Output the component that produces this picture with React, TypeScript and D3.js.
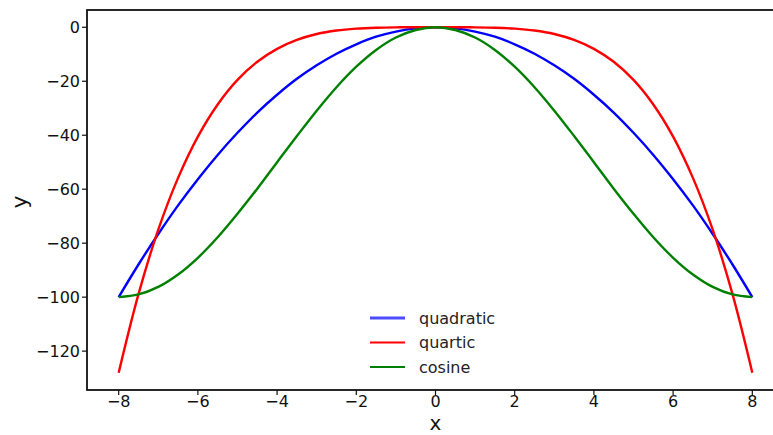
import React from 'react';
import * as d3 from 'd3';

const xs = [-8, -7.5, -7, -6.5, -6, -5.5, -5, -4.5, -4, -3.5, -3, -2.5, -2, -1.5, -1, -0.5, 0,
  0.5, 1, 1.5, 2, 2.5, 3, 3.5, 4, 4.5, 5, 5.5, 6, 6.5, 7, 7.5, 8];

const quadratic = [-100, -87.9, -76.6, -66.0, -56.3, -47.3, -39.1, -31.6, -25.0, -19.1, -14.1, -9.8, -6.3, -3.5, -1.6, -0.4, 0,
  -0.4, -1.6, -3.5, -6.3, -9.8, -14.1, -19.1, -25.0, -31.6, -39.1, -47.3, -56.3, -66.0, -76.6, -87.9, -100];

const quartic = [-128, -98.9, -75.0, -55.8, -40.5, -28.6, -19.5, -12.8, -8.0, -4.7, -2.5, -1.2, -0.5, -0.16, -0.03, 0, 0,
  0, -0.03, -0.16, -0.5, -1.2, -2.5, -4.7, -8.0, -12.8, -19.5, -28.6, -40.5, -55.8, -75.0, -98.9, -128];

const cosine = [-100, -99.0, -96.2, -91.6, -85.4, -77.8, -69.1, -59.8, -50.0, -40.3, -30.9, -22.2, -14.6, -8.4, -3.8, -1.0, 0,
  -1.0, -3.8, -8.4, -14.6, -22.2, -30.9, -40.3, -50.0, -59.8, -69.1, -77.8, -85.4, -91.6, -96.2, -99.0, -100];

const xTicks = [-8, -6, -4, -2, 0, 2, 4, 6, 8];
const yTicks = [0, -20, -40, -60, -80, -100, -120];

const series = [
  { name: 'quadratic', values: quadratic, color: '#0000ff' },
  { name: 'quartic', values: quartic, color: '#ff0000' },
  { name: 'cosine', values: cosine, color: '#008000' },
];

const W = 773, H = 435;
const left = 87, right = 784, top = 10, bottom = 390;
const font = '"DejaVu Sans", sans-serif';

export default function App() {
  const x = d3.scaleLinear().domain([-8.8, 8.8]).range([left, right]);
  const y = d3.scaleLinear().domain([-134.4, 6.4]).range([bottom, top]);

  const line = d3.line<number>()
    .x((_, i) => x(xs[i]))
    .y((d) => y(d))
    .curve(d3.curveCatmullRom);

  return (
    <svg width={W} height={H} style={{ position: 'absolute', left: 0, top: 0, background: '#fff' }}>
      <defs>
        <clipPath id="plot">
          <rect x={left} y={top} width={right - left} height={bottom - top} />
        </clipPath>
      </defs>
      <g clipPath="url(#plot)">
        {series.map((s) => (
          <path key={s.name} d={line(s.values) || ''} fill="none" stroke={s.color} strokeWidth={2.4} />
        ))}
      </g>
      <rect x={left} y={top} width={right - left} height={bottom - top} fill="none" stroke="#111" strokeWidth={1.8} />

      {xTicks.map((t) => (
        <g key={'x' + t}>
          <line x1={x(t)} x2={x(t)} y1={bottom} y2={bottom + 5} stroke="#111" strokeWidth={1.2} />
          <text x={x(t)} y={407} textAnchor="middle" fontSize={16} fontFamily={font} fill="#111">
            {t < 0 ? '\u2212' + Math.abs(t) : t}
          </text>
        </g>
      ))}
      {yTicks.map((t) => (
        <g key={'y' + t}>
          <line x1={left - 5} x2={left} y1={y(t)} y2={y(t)} stroke="#111" strokeWidth={1.2} />
          <text x={80} y={y(t)} dy="0.36em" textAnchor="end" fontSize={16} fontFamily={font} fill="#111">
            {t < 0 ? '\u2212' + Math.abs(t) : t}
          </text>
        </g>
      ))}

      <text x={x(0)} y={430} textAnchor="middle" fontSize={20} fontFamily={font} fill="#111">x</text>
      <text transform="translate(27,202) rotate(-90)" textAnchor="middle" fontSize={22} fontFamily={font} fill="#111">y</text>

      {series.map((s, i) => (
        <g key={'lg' + s.name} transform={`translate(370,${318 + i * 24.5})`}>
          <line x1={0} x2={35} y1={0} y2={0} stroke={s.color} strokeWidth={i === 0 ? 3.2 : 2.2} strokeOpacity={i === 0 ? 0.7 : 1} />
          <text x={49} y={0} dy="0.35em" fontSize={16} fontFamily={font} fill="#222">{s.name}</text>
        </g>
      ))}
    </svg>
  );
}
